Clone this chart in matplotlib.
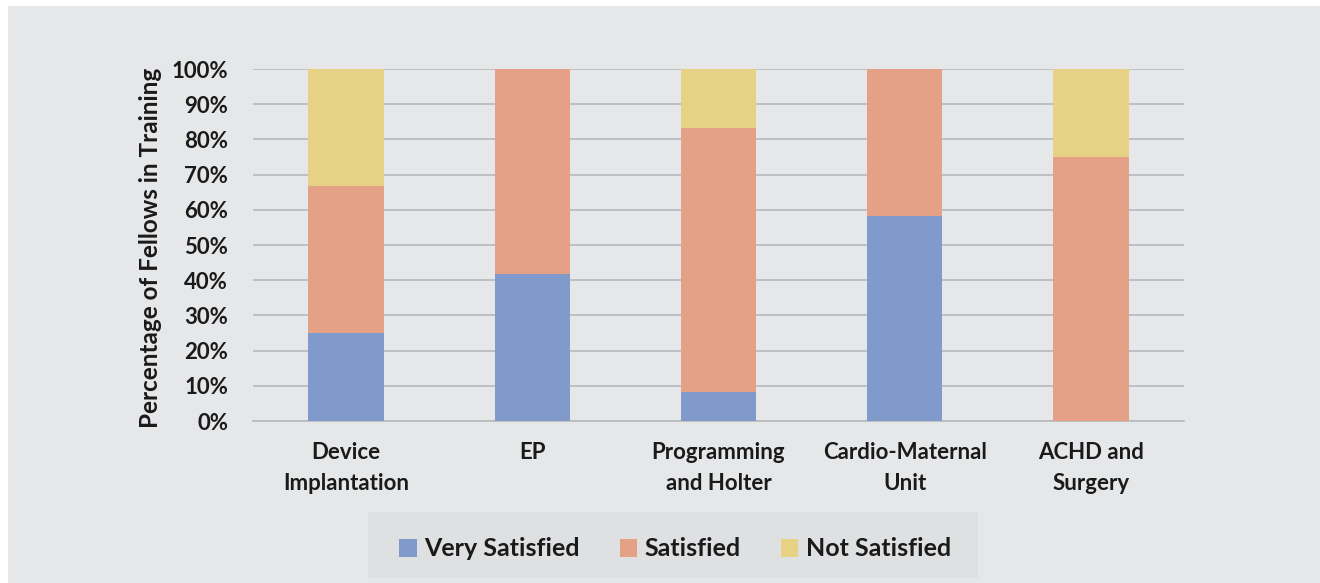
import matplotlib.pyplot as plt
from matplotlib.patches import Rectangle

categories = ["Device\nImplantation", "EP", "Programming\nand Holter",
              "Cardio-Maternal\nUnit", "ACHD and\nSurgery"]
very_satisfied = [25.0, 41.7, 8.3, 58.3, 0.0]
satisfied = [41.7, 58.3, 75.0, 41.7, 75.0]
not_satisfied = [33.3, 0.0, 16.7, 0.0, 25.0]

series_names = ["Very Satisfied", "Satisfied", "Not Satisfied"]
colors = ["#7f9acb", "#e5a186", "#e6d184"]

plt.rcParams['font.family'] = ['Lato', 'DejaVu Sans']
bg = "#e6e7e9"

fig = plt.figure(figsize=(13.2, 5.83), dpi=100, facecolor="white")
# grey panel, leaving a thin white strip on the left and top
fig.patches.append(Rectangle((8 / 1320, 0), 1 - 8 / 1320, 1 - 6 / 583,
                             transform=fig.transFigure, facecolor=bg,
                             edgecolor="none", zorder=-10))
# legend box
fig.patches.append(Rectangle((368 / 1320, 5 / 583), (978 - 368) / 1320, (583 - 512 - 5) / 583,
                             transform=fig.transFigure, facecolor="#dfe0e2",
                             edgecolor="none", zorder=-5))

ax = fig.add_axes([253 / 1320, 1 - 421 / 583, (1184 - 253) / 1320, (421 - 69) / 583])
ax.set_facecolor(bg)
ax.set_zorder(2)

x = range(len(categories))
bottom2 = [a + b for a, b in zip(very_satisfied, satisfied)]
ax.bar(x, very_satisfied, width=0.405, color=colors[0], zorder=3, label=series_names[0])
ax.bar(x, satisfied, width=0.405, bottom=very_satisfied, color=colors[1], zorder=3,
       label=series_names[1])
ax.bar(x, not_satisfied, width=0.405, bottom=bottom2, color=colors[2], zorder=3,
       label=series_names[2])

ax.set_xlim(-0.5, len(categories) - 0.5)
ax.set_ylim(0, 100)
ax.set_yticks(range(0, 101, 10))
ax.set_yticklabels([f"{v}%" for v in range(0, 101, 10)], fontsize=16, fontweight="bold")
ax.set_xticks(list(x))
ax.set_xticklabels(categories, fontsize=16, fontweight="bold", linespacing=1.6)
ax.tick_params(axis="both", length=0, colors="#1a1a1a")
ax.tick_params(axis="x", pad=15)
ax.tick_params(axis="y", pad=18)
ax.yaxis.grid(True, color="#b8b9bc", linewidth=1.2, zorder=0)
for s in ["top", "right", "left"]:
    ax.spines[s].set_visible(False)
ax.spines["bottom"].set_color("#b8b9bc")
ax.spines["bottom"].set_linewidth(1.2)

fig.text(150 / 1320, 1 - 248 / 583, "Percentage of Fellows in Training", rotation=90,
         ha="center", va="center", fontsize=17.5, fontweight="bold", color="#1a1a1a")

leg = fig.legend(loc="center", bbox_to_anchor=(675 / 1320, 1 - 549 / 583), ncol=3,
                 frameon=False, prop={"size": 18, "weight": "bold"},
                 handlelength=0.7, handleheight=0.7, handletextpad=0.3, columnspacing=1.6)
for t in leg.get_texts():
    t.set_color("#1a1a1a")

fig.savefig("out.png", dpi=100, facecolor=fig.get_facecolor())
